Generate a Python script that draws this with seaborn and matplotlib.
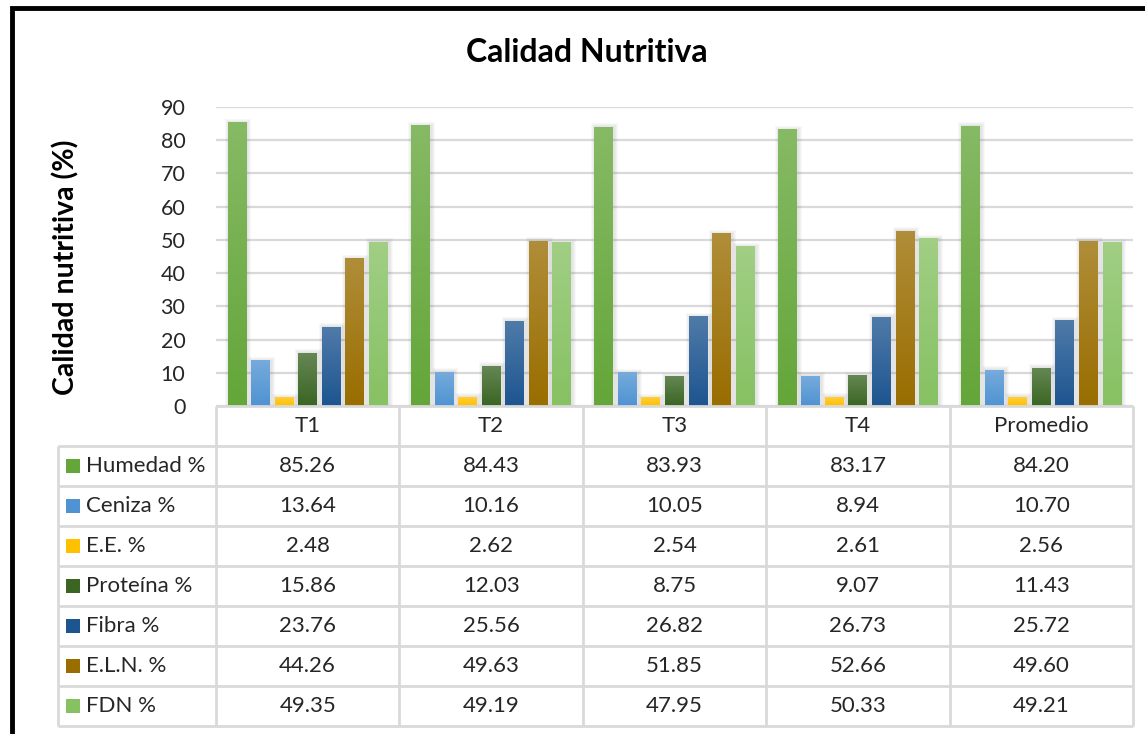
import numpy as np
import pandas as pd
import matplotlib
matplotlib.use("Agg")
import matplotlib.pyplot as plt
import matplotlib.colors as mcolors
from matplotlib.patches import Rectangle
import seaborn as sns

# ---- data -------------------------------------------------------------
categories = ["T1", "T2", "T3", "T4", "Promedio"]
series_names = ["Humedad %", "Ceniza %", "E.E. %", "Proteína %",
                "Fibra %", "E.L.N. %", "FDN %"]
humedad = [85.26, 84.43, 83.93, 83.17, 84.20]
ceniza = [13.64, 10.16, 10.05, 8.94, 10.70]
extracto_etereo = [2.48, 2.62, 2.54, 2.61, 2.56]
proteina = [15.86, 12.03, 8.75, 9.07, 11.43]
fibra = [23.76, 25.56, 26.82, 26.73, 25.72]
eln = [44.26, 49.63, 51.85, 52.66, 49.60]
fdn = [49.35, 49.19, 47.95, 50.33, 49.21]
yticks = [0, 10, 20, 30, 40, 50, 60, 70, 80, 90]

series_values = [humedad, ceniza, extracto_etereo, proteina, fibra, eln, fdn]
colors = ["#64A639", "#4F93D2", "#FFC000", "#3A6523",
          "#1D5590", "#996D00", "#86C162"]

df = pd.DataFrame(
    [(c, s, v) for s, vals in zip(series_names, series_values)
     for c, v in zip(categories, vals)],
    columns=["Tratamiento", "Componente", "Valor"],
)

# ---- figure -----------------------------------------------------------
W, H = 1145, 734
fig = plt.figure(figsize=(W / 100, H / 100), dpi=100)
FONT = ["Lato", "DejaVu Sans"]
plt.rcParams["font.family"] = FONT

def fx(px):
    return px / W

def fy(py):
    return 1 - py / H

x_left, x_right = 216, 1133
y_top, y_bottom = 107, 406
ax = fig.add_axes([fx(x_left), fy(y_bottom), fx(x_right - x_left),
                   (y_bottom - y_top) / H])

sns.barplot(data=df, x="Tratamiento", y="Valor", hue="Componente",
            order=categories, hue_order=series_names, palette=colors,
            saturation=1, width=0.9, gap=0.2, legend=False, ax=ax,
            zorder=3, linewidth=0)

# pixel size in data units, for the soft shadow around each bar
col_px = (x_right - x_left) / len(categories)
px_x = 1 / col_px
px_y = 90 / (y_bottom - y_top)

# vertical gradient and soft shadow on each bar
grad = np.linspace(0, 1, 64)[:, None, None]
for p in list(ax.patches):
    x0, y0, w, h = p.get_x(), p.get_y(), p.get_width(), p.get_height()
    base = np.array(mcolors.to_rgb(p.get_facecolor()))
    top = base + (1 - base) * 0.22
    img = base * (1 - grad) + top * grad
    ax.imshow(img, extent=[x0, x0 + w, y0, y0 + h], origin="lower",
              aspect="auto", zorder=3.5, interpolation="bilinear")
    for k in (1, 2, 3, 4):
        ax.add_patch(Rectangle((x0 - k * px_x + px_x, y0),
                               w + 2 * k * px_x, h + k * px_y,
                               facecolor="#606060", alpha=0.045,
                               edgecolor="none", zorder=2.5))

ax.set_xlim(-0.5, len(categories) - 0.5)
ax.set_ylim(0, 90)
ax.set_yticks(yticks)
ax.set_yticklabels([str(t) for t in yticks], fontsize=15.5, color="#262626")
ax.tick_params(axis="y", length=0, pad=22)
ax.set_xticks([])
ax.set_xlabel("")
ax.set_ylabel("")
ax.grid(axis="y", color="#d9d9d9", linewidth=1.6, zorder=0)
ax.set_axisbelow(True)
for s in ax.spines.values():
    s.set_visible(False)
ax.set_facecolor("none")

fig.text(fx(587), fy(52), "Calidad Nutritiva", ha="center", va="center",
         fontsize=23, fontweight="bold", color="#000000")
fig.text(fx(66), fy(267), "Calidad nutritiva (%)", ha="center",
         va="center", rotation=90, fontsize=20.5, fontweight="bold",
         color="#000000")

# ---- data table -------------------------------------------------------
tab_left, tab_bottom = 58, 726
row_h = 40
header_top = y_bottom
rows_top = header_top + row_h
tax = fig.add_axes([0, 0, 1, 1])
tax.set_xlim(0, W)
tax.set_ylim(H, 0)
tax.axis("off")

col_edges = [x_left + i * col_px for i in range(len(categories) + 1)]
line_kw = dict(color="#d9d9d9", linewidth=2, solid_capstyle="butt")

# horizontal rules
tax.plot([x_left, x_right], [header_top, header_top], **line_kw)
for i in range(len(series_names) + 1):
    y = rows_top + i * row_h
    tax.plot([tab_left, x_right], [y, y], **line_kw)
# vertical rules
for xe in col_edges:
    tax.plot([xe, xe], [header_top, tab_bottom], **line_kw)
tax.plot([tab_left, tab_left], [rows_top, tab_bottom], **line_kw)

txt_kw = dict(fontsize=16, color="#262626", va="center")
for j, cat in enumerate(categories):
    tax.text(x_left + (j + 0.5) * col_px, header_top + row_h / 2, cat,
             ha="center", **txt_kw)
for i, (name, vals, col) in enumerate(zip(series_names, series_values, colors)):
    yc = rows_top + (i + 0.5) * row_h
    tax.add_patch(Rectangle((66, yc - 7), 14, 14, facecolor=col,
                            edgecolor="none"))
    tax.text(86, yc, name, ha="left", **txt_kw)
    for j, v in enumerate(vals):
        tax.text(x_left + (j + 0.5) * col_px, yc, f"{v:.2f}",
                 ha="center", **txt_kw)

# outer frame
tax.plot([11.5, 11.5, W + 5], [H + 5, 8, 8], color="black", linewidth=3.5,
         solid_joinstyle="miter")

fig.savefig("out.png", dpi=100, facecolor="white")
